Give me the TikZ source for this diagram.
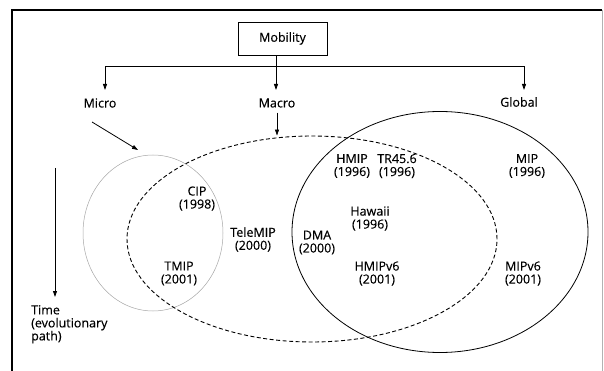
\documentclass[tikz,border=0pt]{standalone}
\usepackage{fontspec}
\setmainfont[FakeBold=0.3]{Open Sans}
\newfontfamily\scanfont[FakeBold=0.35]{Open Sans}
\usetikzlibrary{shapes,arrows.meta,positioning,calc}
\tikzset{
  >={Triangle[length=6pt,width=4pt]},
  lbl/.style={align=center,font=\scanfont\fontsize{12.5}{13}\selectfont,inner sep=1pt},
  topbox/.style={draw,line width=0.9pt,minimum width=89pt,minimum height=33pt,font=\scanfont\fontsize{12.5}{13}\selectfont},
  conn/.style={line width=0.8pt},
  microset/.style={draw=gray!70,line width=0.5pt,ellipse,minimum width=140pt,minimum height=156pt},
  macroset/.style={draw,dashed,dash pattern=on 4pt off 2.5pt,line width=0.9pt,ellipse,minimum width=370pt,minimum height=206pt},
  globalset/.style={draw,line width=0.8pt,ellipse,minimum width=296pt,minimum height=241pt}
}
\begin{document}
\begin{tikzpicture}[x=1pt,y=-1pt]
\useasboundingbox (0,0) rectangle (604,371);
% frame
\draw[line width=1.2pt] (12,371) -- (12,10) -- (602,10);
\draw[gray!60,line width=0.5pt] (602,10) -- (602,371);

% sets
\node[microset](microell) at (153,233) {};
\node[macroset](macroell) at (312,239) {};
\node[globalset](globalell) at (440,232) {};

% tree
\node[topbox](mob) at (282.5,38.5) {Mobility};
\node[lbl](micro) at (100,103) {Micro};
\node[lbl](macro) at (277,103) {Macro};
\node[lbl](global) at (519,102) {Global};
\coordinate (split) at (276,66);
\coordinate (tmicro) at (105,90);
\coordinate (tmacro) at (276,90);
\coordinate (tglobal) at (524,90);
\draw[conn] (mob.south -| split) -- (split);
\draw[conn,->] (split) -| (tmicro);
\draw[conn,->] (split) -- (tmacro);
\draw[conn,->] (split) -| (tglobal);

\coordinate (microtip) at (138,150);
\draw[conn,->] ([xshift=-8pt,yshift=-19pt]micro.center) -- (microtip);
\draw[conn,->] ([yshift=-4pt]macro.south) -- (macro.south |- macroell.north);

% time axis
\node[lbl,align=left,anchor=north west](time) at (30,304) {Time\\(evolutionary\\path)};
\coordinate (timetop) at (55,168);
\coordinate (timetip) at (55,297);
\draw[conn,->] (timetop) -- (timetip);

% protocols
\node[lbl](cip) at (197,198.5) {CIP\\(1998)};
\node[lbl](tmip) at (179,273.5) {TMIP\\(2001)};
\node[lbl](telemip) at (253,239.5) {TeleMIP\\(2000)};
\node[lbl](hmip) at (352,166) {HMIP\\(1996)};
\node[lbl](tr) at (397,166) {TR45.6\\(1996)};
\node[lbl](mip) at (527,166) {MIP\\(1996)};
\node[lbl](hawaii) at (370,218.5) {Hawaii\\(1996)};
\node[lbl](dma) at (317,242.5) {DMA\\(2000)};
\node[lbl](hmipv6) at (377,273.5) {HMIPv6\\(2001)};
\node[lbl](mipv6) at (523,273.5) {MIPv6\\(2001)};
\end{tikzpicture}
\end{document}
